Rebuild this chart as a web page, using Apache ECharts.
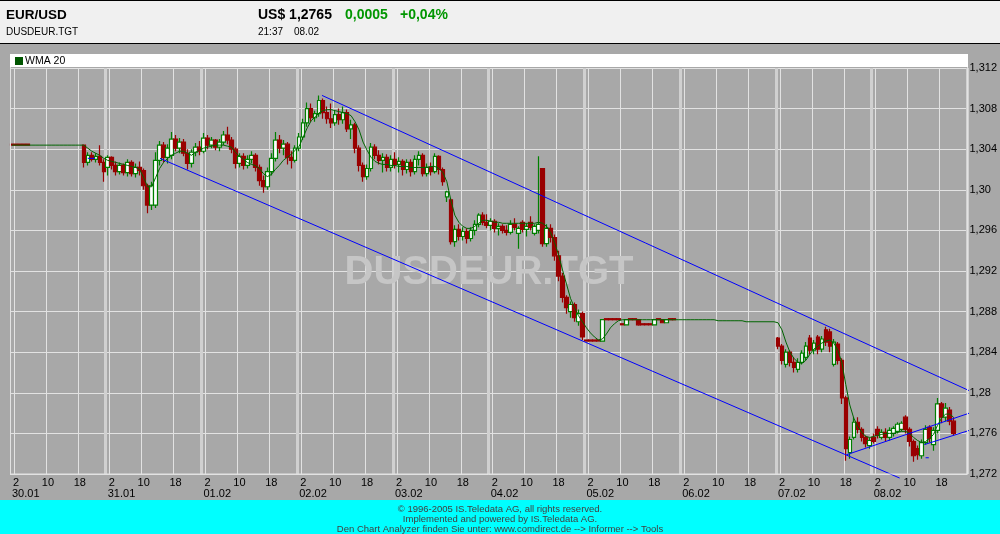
<!DOCTYPE html>
<html>
<head>
<meta charset="utf-8">
<script src="https://cdn.jsdelivr.net/npm/echarts@6/dist/echarts.min.js"></script>
<style>html,body{margin:0;padding:0;background:#a8a8a8}#c{width:1000px;height:534px}</style>
</head>
<body>
<div id="c"></div>
<script>
// ---- chart data ----
const dates = ['30.01','31.01','01.02','02.02','03.02','04.02','05.02','06.02','07.02','08.02'];
const hourTicks = ['2','10','18'];
const yMin = 1.272, yMax = 1.312, yStep = 0.004;

// hourly candles per day: [open, close, low, high], null = no data
const c3001 = [
 [1.3045,1.3044,1.3044,1.3045],[1.3045,1.3044,1.3044,1.3045],[1.3045,1.3044,1.3044,1.3045],[1.3045,1.3044,1.3044,1.3045],[1.3045,1.3044,1.3044,1.3045],
 null,null,null,null,null,null,null,null,null,null,null,null,null,
 [1.3044,1.3027,1.3022,1.3044],[1.3027,1.3034,1.3024,1.3037],[1.3034,1.3030,1.3028,1.3037],[1.3030,1.3033,1.3027,1.3036],[1.3033,1.3027,1.3024,1.3044],[1.3027,1.3018,1.3008,1.3030]
];
const c3101 = [
 [1.3022,1.3032,1.3014,1.3034],[1.3032,1.3024,1.3020,1.3033],[1.3024,1.3018,1.3014,1.3028],[1.3018,1.3024,1.3015,1.3027],
 [1.3024,1.3017,1.3014,1.3026],[1.3017,1.3027,1.3013,1.3030],[1.3027,1.3016,1.3013,1.3029],[1.3016,1.3022,1.3012,1.3026],
 [1.3022,1.3019,1.3014,1.3028],[1.3019,1.3004,1.3000,1.3021],[1.3004,1.2985,1.2977,1.3006],[1.2985,1.3004,1.2980,1.3008],
 [1.2985,1.3029,1.2982,1.3037],[1.3029,1.3044,1.3024,1.3048],[1.3044,1.3032,1.3027,1.3047],[1.3032,1.3041,1.3026,1.3045],
 [1.3034,1.3050,1.3030,1.3057],[1.3050,1.3041,1.3038,1.3054],[1.3041,1.3047,1.3036,1.3051],[1.3047,1.3036,1.3033,1.3050],
 [1.3036,1.3026,1.3020,1.3040],[1.3026,1.3037,1.3022,1.3040],[1.3037,1.3042,1.3033,1.3046],[1.3042,1.3038,1.3034,1.3048]
];
const c0102 = [
 [1.3038,1.3051,1.3036,1.3056],[1.3051,1.3044,1.3040,1.3054],[1.3044,1.3049,1.3041,1.3052],[1.3049,1.3042,1.3039,1.3050],
 [1.3042,1.3047,1.3038,1.3050],[1.3047,1.3054,1.3044,1.3058],[1.3054,1.3049,1.3045,1.3062],[1.3049,1.3040,1.3036,1.3052],
 [1.3040,1.3026,1.3021,1.3042],[1.3026,1.3033,1.3022,1.3036],[1.3033,1.3024,1.3020,1.3036],[1.3024,1.3030,1.3021,1.3034],
 [1.3030,1.3034,1.3026,1.3038],[1.3034,1.3022,1.3018,1.3036],[1.3022,1.3009,1.3004,1.3025],[1.3009,1.3003,1.2997,1.3014],
 [1.3003,1.3018,1.3000,1.3022],[1.3018,1.3031,1.3014,1.3036],[1.3031,1.3049,1.3028,1.3057],[1.3049,1.3041,1.3036,1.3054],
 [1.3041,1.3045,1.3034,1.3049],[1.3045,1.3032,1.3025,1.3047],[1.3032,1.3029,1.3021,1.3038],[1.3029,1.3041,1.3027,1.3044]
];
const c0202 = [
 [1.3041,1.3052,1.3038,1.3056],[1.3052,1.3066,1.3049,1.3070],[1.3066,1.3080,1.3062,1.3086],[1.3080,1.3071,1.3067,1.3085],
 [1.3071,1.3075,1.3067,1.3078],[1.3075,1.3088,1.3072,1.3093],[1.3088,1.3076,1.3070,1.3090],[1.3076,1.3070,1.3065,1.3082],
 [1.3070,1.3066,1.3061,1.3085],[1.3066,1.3074,1.3063,1.3078],[1.3074,1.3069,1.3064,1.3080],[1.3069,1.3076,1.3065,1.3082],
 [1.3076,1.3060,1.3057,1.3079],[1.3060,1.3064,1.3050,1.3069],[1.3064,1.3041,1.3036,1.3066],[1.3041,1.3024,1.3018,1.3044],
 [1.3024,1.3013,1.3008,1.3027],[1.3013,1.3021,1.3010,1.3025],[1.3021,1.3042,1.3018,1.3046],[1.3042,1.3034,1.3030,1.3045],
 [1.3034,1.3029,1.3025,1.3039],[1.3029,1.3032,1.3017,1.3036],[1.3032,1.3022,1.3018,1.3035],[1.3022,1.3030,1.3018,1.3034]
];
const c0302 = [
 [1.3030,1.3025,1.3021,1.3037],[1.3025,1.3028,1.3017,1.3032],[1.3028,1.3020,1.3014,1.3030],[1.3020,1.3027,1.3016,1.3030],
 [1.3027,1.3018,1.3013,1.3030],[1.3018,1.3030,1.3015,1.3034],[1.3030,1.3034,1.3024,1.3038],[1.3034,1.3016,1.3013,1.3036],
 [1.3016,1.3022,1.3013,1.3026],[1.3022,1.3018,1.3014,1.3027],[1.3018,1.3033,1.3016,1.3036],[1.3033,1.3020,1.3015,1.3034],
 [1.3020,1.3008,1.3004,1.3022],[1.2993,1.2998,1.2988,1.2999],[1.2990,1.2949,1.2946,1.2992],[1.2949,1.2961,1.2944,1.2965],
 [1.2961,1.2954,1.2950,1.2966],[1.2954,1.2959,1.2950,1.2963],[1.2959,1.2952,1.2947,1.2962],[1.2952,1.2960,1.2949,1.2963],
 [1.2960,1.2966,1.2955,1.2970],[1.2966,1.2975,1.2963,1.2977],[1.2975,1.2968,1.2965,1.2978],[1.2968,1.2965,1.2962,1.2976]
];
const c0402 = [
 [1.2965,1.2969,1.2960,1.2972],[1.2969,1.2962,1.2958,1.2971],[1.2962,1.2964,1.2955,1.2967],[1.2964,1.2960,1.2957,1.2966],
 [1.2960,1.2958,1.2955,1.2965],[1.2958,1.2966,1.2956,1.2970],[1.2966,1.2963,1.2960,1.2972],[1.2957,1.2962,1.2942,1.2964],
 [1.2968,1.2961,1.2958,1.2970],[1.2961,1.2964,1.2954,1.2967],[1.2968,1.2963,1.2960,1.2974],[1.2957,1.2964,1.2955,1.2966],
 [1.2960,1.2966,1.2957,1.3033],[1.3021,1.2947,1.2944,1.3021],[1.2947,1.2962,1.2944,1.2966],[1.2962,1.2953,1.2948,1.2966],
 [1.2953,1.2935,1.2930,1.2956],[1.2935,1.2915,1.2910,1.2940],[1.2915,1.2894,1.2889,1.2918],[1.2894,1.2884,1.2878,1.2896],
 [1.2880,1.2887,1.2874,1.2890],[1.2887,1.2874,1.2870,1.2889],[1.2870,1.2878,1.2866,1.2882],[1.2878,1.2855,1.2852,1.2880]
];
const c0502 = [
 [1.2852,1.2851,1.2851,1.2852],[1.2852,1.2851,1.2851,1.2852],[1.2852,1.2851,1.2851,1.2852],[1.2852,1.2851,1.2851,1.2852],
 [1.2851,1.2872,1.2851,1.2872],
 [1.2873,1.2872,1.2872,1.2873],[1.2873,1.2872,1.2872,1.2873],[1.2873,1.2872,1.2872,1.2873],[1.2873,1.2872,1.2872,1.2873],
 [1.2868,1.2867,1.2867,1.2868],[1.2867,1.2872,1.2867,1.2872],[1.2873,1.2872,1.2872,1.2873],[1.2873,1.2872,1.2872,1.2873],
 [1.2872,1.2867,1.2866,1.2872],[1.2868,1.2867,1.2867,1.2868],[1.2868,1.2867,1.2867,1.2868],[1.2868,1.2867,1.2867,1.2868],
 [1.2867,1.2872,1.2867,1.2872],[1.2873,1.2872,1.2872,1.2873],[1.2872,1.2869,1.2869,1.2872],[1.2869,1.2872,1.2869,1.2872],
 [1.2873,1.2872,1.2872,1.2873],[1.2873,1.2872,1.2872,1.2873],
 null
];
const c0602 = [
 null,null,null,null,null,null,null,null,null,null,null,null,
 null,null,null,null,null,null,null,null,null,null,null,null
];
const c0702 = [
 [1.2854,1.2846,1.2843,1.2855],[1.2846,1.2832,1.2828,1.2848],[1.2828,1.2840,1.2825,1.2843],[1.2840,1.2830,1.2826,1.2842],
 [1.2830,1.2825,1.2820,1.2835],[1.2823,1.2830,1.2820,1.2834],[1.2830,1.2839,1.2828,1.2842],[1.2835,1.2846,1.2832,1.2850],
 [1.2854,1.2842,1.2838,1.2857],[1.2842,1.2849,1.2838,1.2852],[1.2855,1.2843,1.2838,1.2857],[1.2843,1.2853,1.2840,1.2856],
 [1.2862,1.2850,1.2846,1.2865],[1.2860,1.2846,1.2840,1.2863],[1.2828,1.2850,1.2826,1.2853],[1.2848,1.2832,1.2828,1.2850],
 [1.2832,1.2795,1.2789,1.2834],[1.2795,1.2745,1.2733,1.2797],[1.2741,1.2754,1.2735,1.2757],[1.2756,1.2771,1.2754,1.2776],
 [1.2771,1.2764,1.2760,1.2776],[1.2764,1.2756,1.2752,1.2766],[1.2756,1.2750,1.2746,1.2758],[1.2748,1.2753,1.2745,1.2756]
];
const c0802 = [
 [1.2756,1.2752,1.2750,1.2760],[1.2764,1.2758,1.2755,1.2767],[1.2756,1.2761,1.2754,1.2764],[1.2761,1.2756,1.2752,1.2765],
 [1.2756,1.2763,1.2753,1.2766],[1.2760,1.2765,1.2757,1.2767],[1.2762,1.2769,1.2760,1.2771],[1.2764,1.2770,1.2762,1.2772],
 [1.2776,1.2764,1.2760,1.2778],[1.2764,1.2752,1.2747,1.2766],[1.2752,1.2738,1.2732,1.2754],[1.2745,1.2739,1.2734,1.2748],
 [1.2738,1.2751,1.2735,1.2754],[1.2751,1.2764,1.2749,1.2768],[1.2766,1.2755,1.2751,1.2768],[1.2749,1.2763,1.2743,1.2766],
 [1.2763,1.2789,1.2760,1.2795],[1.2789,1.2776,1.2770,1.2791],[1.2776,1.2785,1.2772,1.2790],[1.2783,1.2772,1.2768,1.2786],
 [1.2772,1.2760,1.2758,1.2776],
 null,null,null
];

// WMA 20, read per hour
const w3001 = [1.3044,1.3044,1.3044,1.3044,1.3044,1.3044,1.3044,1.3044,1.3044,1.3044,1.3044,1.3044,1.3044,1.3044,1.3044,1.3044,1.3044,1.3044,1.3044,1.3041,1.3038,1.3036,1.3034,1.3031];
const w3101 = [1.3029,1.3028,1.3027,1.3026,1.3025,1.3024,1.3023,1.3022,1.3020,1.3012,1.3003,1.3003,1.3012,1.3021,1.3027,1.3031,1.3034,1.3036,1.3038,1.3038,1.3036,1.3034,1.3037,1.3039];
const w0102 = [1.3041,1.3042,1.3043,1.3044,1.3044,1.3044,1.3043,1.3042,1.3037,1.3033,1.3030,1.3027,1.3025,1.3024,1.3021,1.3016,1.3013,1.3015,1.3020,1.3024,1.3029,1.3032,1.3035,1.3039];
const w0202 = [1.3043,1.3052,1.3061,1.3068,1.3072,1.3076,1.3078,1.3079,1.3079,1.3078,1.3077,1.3076,1.3075,1.3073,1.3067,1.3059,1.3047,1.3039,1.3032,1.3028,1.3026,1.3025,1.3025,1.3024];
const w0302 = [1.3024,1.3023,1.3023,1.3023,1.3022,1.3022,1.3022,1.3022,1.3022,1.3023,1.3023,1.3021,1.3017,1.3008,1.2990,1.2975,1.2968,1.2964,1.2962,1.2962,1.2964,1.2967,1.2970,1.2970];
const w0402 = [1.2969,1.2968,1.2968,1.2967,1.2967,1.2967,1.2967,1.2967,1.2967,1.2967,1.2967,1.2967,1.2968,1.2967,1.2964,1.2958,1.2948,1.2936,1.2921,1.2907,1.2893,1.2884,1.2876,1.2870];
const w0502 = [1.2864,1.2859,1.2855,1.2852,1.2853,1.2858,1.2864,1.2868,1.2871,1.2872,1.2872,1.2872,1.2872,1.2872,1.2872,1.2872,1.2872,1.2872,1.2872,1.2872,1.2872,1.2872,1.2872,1.2872];
const w0602 = [1.2872,1.2872,1.2872,1.2872,1.2872,1.2872,1.2872,1.2872,1.2872,1.2871,1.2871,1.2871,1.2871,1.2871,1.2871,1.2871,1.2870,1.2870,1.2870,1.2870,1.2870,1.2870,1.2870,1.2870];
const w0702 = [1.2869,1.2862,1.2850,1.2840,1.2834,1.2830,1.2829,1.2832,1.2838,1.2843,1.2846,1.2849,1.2851,1.2852,1.2849,1.2842,1.2830,1.2808,1.2788,1.2775,1.2767,1.2761,1.2757,1.2756];
const w0802 = [1.2757,1.2758,1.2759,1.2760,1.2760,1.2760,1.2761,1.2762,1.2762,1.2760,1.2756,1.2753,1.2751,1.2752,1.2755,1.2759,1.2768,1.2775,1.2779,1.2779,1.2776,null,null,null];

// trend lines: [hourStart, priceStart, hourEnd, priceEnd] (hours from 30.01 00:00)
const trendLines = [
 [78.2, 1.3093, 240.5, 1.2802],
 [37.6, 1.3031, 223.0, 1.2716],
 [209.7, 1.2739, 240.5, 1.2780],
 [229.2, 1.2749, 240.5, 1.2763],
 [19.5, 1.3031, 21.3, 1.3031],
 [229.5, 1.2736, 230.3, 1.2736]
];

// header / footer texts
const headTitle = 'EUR/USD', headSymbol = 'DUSDEUR.TGT';
const headPrice = 'US$ 1,2765', headChange = '0,0005', headPct = '+0,04%';
const headTime = '21:37', headDate = '08.02';
const footerLines = [
 '\u00A9 1996-2005 IS.Teledata AG, all rights reserved.',
 'Implemented and powered by IS.Teledata AG.',
 'Den Chart Analyzer finden Sie unter: www.comdirect.de --> Informer --> Tools'
];
const legendName = 'WMA 20';

// ---- build ----
const FONT = '"Liberation Sans", Arial, sans-serif';
const candles = [].concat(c3001,c3101,c0102,c0202,c0302,c0402,c0502,c0602,c0702,c0802)
  .map(d => d ? d : ['-','-','-','-']);
const wma = [].concat(w3001,w3101,w0102,w0202,w0302,w0402,w0502,w0602,w0702,w0802);
const categories = [];
dates.forEach(() => { for (let h = 1; h <= 24; h++) categories.push(String(h)); });

const chart = echarts.init(document.getElementById('c'), null, {renderer: 'canvas', width: 1000, height: 534});

const lineSeries = trendLines.map(t => ({
  type: 'line', xAxisIndex: 2, yAxisIndex: 0,
  data: [[t[0], t[1]], [t[2], t[3]]],
  symbol: 'none', clip: false, silent: true, z: 4,
  lineStyle: {color: '#0000ff', width: 1}
}));

const yFmt = v => { let s = v.toFixed(3); if (s.endsWith('0')) s = s.slice(0, -1); return s.replace('.', ','); };

const option = {
  animation: false,
  backgroundColor: '#a8a8a8',
  grid: {left: 10, right: 32, top: 68, bottom: 60},
  xAxis: [
    {
      type: 'category', data: categories, boundaryGap: true,
      axisLine: {show: false}, axisTick: {show: false},
      axisLabel: {interval: (i, v) => hourTicks.includes(v), color: '#000', fontSize: 11, fontFamily: FONT, margin: 3},
      splitLine: {show: true, interval: (i, v) => hourTicks.includes(v), lineStyle: {color: '#e2e2e2', width: 1}}
    },
    {
      type: 'category', data: categories, boundaryGap: true, position: 'bottom',
      axisLine: {show: false}, axisTick: {show: false},
      axisLabel: {interval: (i, v) => v === '1', formatter: (v, i) => dates[Math.floor(i / 24)], align: 'left',
        color: '#000', fontSize: 11, fontFamily: FONT, margin: 14},
      splitLine: {show: true, interval: (i, v) => v === '1' && i > 0, lineStyle: {color: '#d0d0d0', width: 3}}
    },
    {type: 'value', min: 0, max: 240, show: false}
  ],
  yAxis: {
    type: 'value', position: 'right', min: yMin, max: yMax, interval: yStep,
    axisLine: {show: false}, axisTick: {show: false},
    axisLabel: {formatter: yFmt, color: '#000', fontSize: 11, fontFamily: FONT, margin: 2},
    splitLine: {show: true, lineStyle: {color: '#e2e2e2', width: 1}}
  },
  series: [
    {
      type: 'candlestick', name: 'EUR/USD', xAxisIndex: 0, yAxisIndex: 0, data: candles, barWidth: 4, z: 2,
      itemStyle: {color: '#ffffff', color0: '#990000', borderColor: '#008000', borderColor0: '#990000', borderWidth: 1.2}
    },
    {
      type: 'line', name: legendName, xAxisIndex: 0, yAxisIndex: 0, data: wma, symbol: 'none', z: 3,
      lineStyle: {color: '#006400', width: 1}
    }
  ].concat(lineSeries),
  graphic: [
    {type: 'text', z: 1, style: {text: headSymbol, x: 489, y: 273, textAlign: 'center', textVerticalAlign: 'middle',
      font: 'bold 40px ' + FONT, fill: '#c6c6c6'}},
    {type: 'rect', z: 5, shape: {x: 10.5, y: 54.5, width: 957, height: 419.5}, style: {fill: 'none', stroke: '#e2e2e2', lineWidth: 1}},
    {type: 'rect', z: 6, shape: {x: 10, y: 54, width: 958, height: 13}, style: {fill: '#ffffff'}},
    {type: 'rect', z: 7, shape: {x: 15, y: 57, width: 8, height: 8}, style: {fill: '#005500'}},
    {type: 'text', z: 7, style: {text: legendName, x: 25, y: 61.5, textVerticalAlign: 'middle', font: '10.5px ' + FONT, fill: '#000'}},
    {type: 'rect', z: 100, shape: {x: 0, y: 0, width: 1000, height: 44}, style: {fill: '#f0f0f0'}},
    {type: 'rect', z: 101, shape: {x: 0, y: 0, width: 1000, height: 1}, style: {fill: '#000'}},
    {type: 'rect', z: 101, shape: {x: 0, y: 43, width: 1000, height: 1}, style: {fill: '#000'}},
    {type: 'text', z: 101, style: {text: headTitle, x: 6, y: 15, textVerticalAlign: 'middle', font: 'bold 13.5px ' + FONT, fill: '#000'}},
    {type: 'text', z: 101, style: {text: headSymbol, x: 6, y: 32, textVerticalAlign: 'middle', font: '10px ' + FONT, fill: '#000'}},
    {type: 'text', z: 101, style: {text: headPrice, x: 258, y: 15, textVerticalAlign: 'middle', font: 'bold 14px ' + FONT, fill: '#000'}},
    {type: 'text', z: 101, style: {text: headChange, x: 345, y: 15, textVerticalAlign: 'middle', font: 'bold 14px ' + FONT, fill: '#009600'}},
    {type: 'text', z: 101, style: {text: headPct, x: 400, y: 15, textVerticalAlign: 'middle', font: 'bold 14px ' + FONT, fill: '#009600'}},
    {type: 'text', z: 101, style: {text: headTime, x: 258, y: 32, textVerticalAlign: 'middle', font: '10px ' + FONT, fill: '#000'}},
    {type: 'text', z: 101, style: {text: headDate, x: 294, y: 32, textVerticalAlign: 'middle', font: '10px ' + FONT, fill: '#000'}},
    {type: 'rect', z: 100, shape: {x: 0, y: 500, width: 1000, height: 34}, style: {fill: '#00ffff'}},
    {type: 'text', z: 101, style: {text: footerLines[0], x: 500, y: 509, textAlign: 'center', textVerticalAlign: 'middle', font: '9.5px ' + FONT, fill: '#404040'}},
    {type: 'text', z: 101, style: {text: footerLines[1], x: 500, y: 519, textAlign: 'center', textVerticalAlign: 'middle', font: '9.5px ' + FONT, fill: '#404040'}},
    {type: 'text', z: 101, style: {text: footerLines[2], x: 500, y: 529, textAlign: 'center', textVerticalAlign: 'middle', font: '9.5px ' + FONT, fill: '#404040'}}
  ]
};
chart.setOption(option);
</script>
</body>
</html>
